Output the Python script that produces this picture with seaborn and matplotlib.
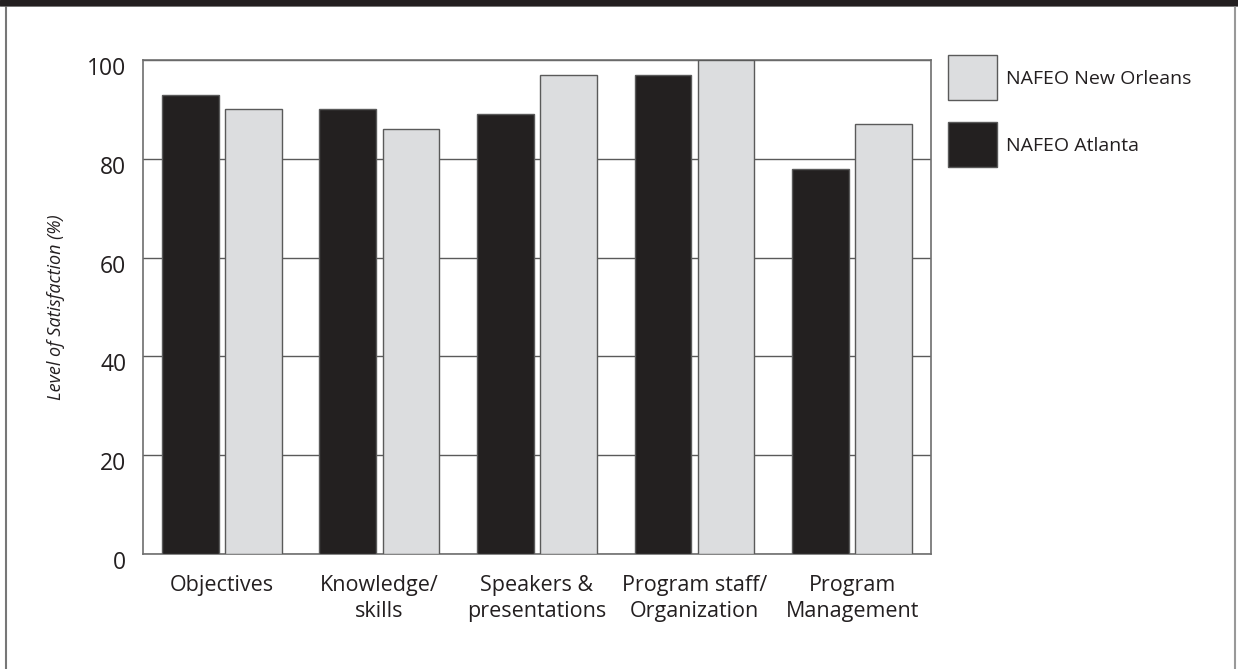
import numpy as np
import pandas as pd
import seaborn as sns
import matplotlib.pyplot as plt
from matplotlib.lines import Line2D
from matplotlib.patches import Rectangle
from matplotlib.transforms import ScaledTranslation

# Data
categories = ['Objectives', 'Knowledge/\nskills', 'Speakers &\npresentations',
              'Program staff/\nOrganization', 'Program\nManagement']
atlanta = [93, 90, 89, 97, 78]
new_orleans = [90, 86, 97, 100, 87]
series_names = ['NAFEO Atlanta', 'NAFEO New Orleans']
yticks = [0, 20, 40, 60, 80, 100]

dark = '#231f20'
light = '#dcdddf'
edge = '#5a5a5a'

df = pd.DataFrame({
    'category': categories * 2,
    'value': atlanta + new_orleans,
    'site': [series_names[0]] * len(categories) + [series_names[1]] * len(categories),
})

sns.set_style('white')
plt.rcParams['font.family'] = ['Open Sans', 'DejaVu Sans']
plt.rcParams['text.color'] = dark

fig = plt.figure(figsize=(12.38, 6.69), dpi=100)
ax = fig.add_axes([0.1155, 0.1719, 0.752 - 0.1155, 0.9103 - 0.1719])

sns.barplot(data=df, x='category', y='value', hue='site', hue_order=series_names,
            palette=[dark, light], width=0.8, gap=0.1, edgecolor=edge,
            linewidth=1.0, ax=ax, zorder=3)

ax.set_ylim(0, 100)
ax.set_xlim(-0.5, len(categories) - 0.5)
ax.set_yticks(yticks)
ax.yaxis.grid(True, color=edge, linewidth=1.0, zorder=0)
ax.set_axisbelow(True)
for s in ax.spines.values():
    s.set_color('#6e6e6e')
    s.set_linewidth(1.2)

ax.tick_params(axis='y', length=0, pad=12, labelsize=16.5, labelcolor=dark)
ax.tick_params(axis='x', length=0, pad=15, labelsize=15.5, labelcolor=dark)
for lbl in ax.get_xticklabels():
    lbl.set_linespacing(1.3)
ax.set_xticks(np.arange(0.5, len(categories) - 0.5), minor=True)
ax.tick_params(axis='x', which='minor', direction='in', length=9, width=1.0, color=dark)
for lbl in ax.get_yticklabels():
    lbl.set_transform(lbl.get_transform() + ScaledTranslation(0, -6 / 100, fig.dpi_scale_trans))

ax.set_xlabel('')
ax.set_ylabel('Level of Satisfaction (%)', fontsize=13, style='italic', labelpad=16, color=dark)

handles, labels = ax.get_legend_handles_labels()
ax.get_legend().remove()
fig.legend(handles[::-1], labels[::-1], loc='upper left',
           bbox_to_anchor=(930 / 1238, 1 - 38 / 669), frameon=False, fontsize=14,
           handlelength=2.57, handleheight=3.18, labelspacing=1.13, handletextpad=0.45)

# page frame: dark header bar and side rules
fig.add_artist(Rectangle((0, 1 - 5 / 669), 1, 5 / 669, transform=fig.transFigure,
                         color=dark, zorder=10))
fig.add_artist(Line2D([0, 1], [1 - 6 / 669] * 2, transform=fig.transFigure, color='#777777', lw=1.2))
fig.add_artist(Line2D([6 / 1238] * 2, [0, 1], transform=fig.transFigure, color='#777777', lw=1.5))
fig.add_artist(Line2D([1235 / 1238] * 2, [0, 1], transform=fig.transFigure, color='#999999', lw=1.5))

fig.savefig('out.png', dpi=100)
